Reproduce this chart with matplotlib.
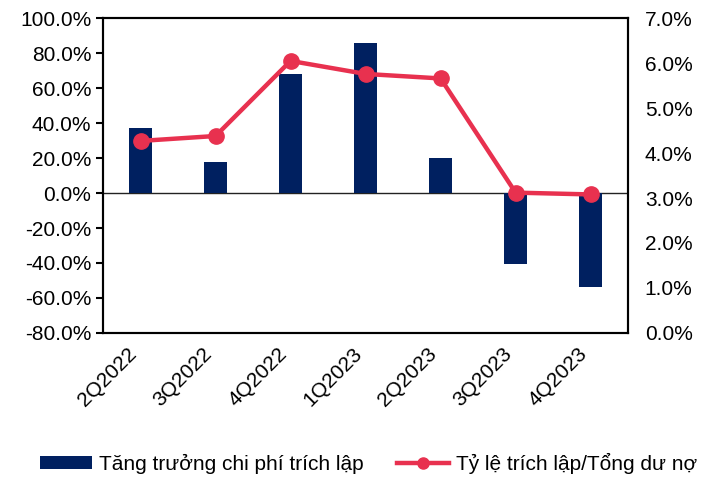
import matplotlib
matplotlib.use("Agg")
import matplotlib.pyplot as plt
from matplotlib.lines import Line2D
from matplotlib.ticker import FuncFormatter, MultipleLocator

plt.rcParams["font.family"] = ["Liberation Sans", "DejaVu Sans"]

quarters = ["2Q2022", "3Q2022", "4Q2022", "1Q2023", "2Q2023", "3Q2023", "4Q2023"]
# growth of provisioning expense (%), left axis
provision_growth = [37.1, 17.7, 68.0, 85.9, 20.3, -40.8, -53.9]
# provisions / total loans (%), right axis
provision_ratio = [4.27, 4.38, 6.05, 5.76, 5.66, 3.12, 3.08]

NAVY = "#002060"
RED = "#E8314F"
FS = 15

fig = plt.figure(figsize=(7.13, 4.79), dpi=100)
ax = fig.add_axes([0.1445, 0.305, 0.7365, 0.657])
ax2 = ax.twinx()

x = range(len(quarters))
bars = ax.bar(x, provision_growth, width=0.31, color=NAVY, zorder=2,
              label="Tăng trưởng chi phí trích lập")
ax.axhline(0, color="#222222", lw=1.0, zorder=1)

line, = ax2.plot(x, provision_ratio, "-o", color=RED, lw=3.2, ms=11,
                 zorder=3, label="Tỷ lệ trích lập/Tổng dư nợ")

ax.set_xlim(-0.5, len(quarters) - 0.5)
ax.set_ylim(-80, 100)
ax.yaxis.set_major_locator(MultipleLocator(20))
ax.yaxis.set_major_formatter(FuncFormatter(lambda v, _: f"{v:.1f}%"))
ax2.set_ylim(0, 7)
ax2.yaxis.set_major_locator(MultipleLocator(1))
ax2.yaxis.set_major_formatter(FuncFormatter(lambda v, _: f"{v:.1f}%"))

ax.set_xticks(list(x))
ax.set_xticklabels(quarters, rotation=45, ha="right", fontsize=FS)
ax.tick_params(axis="x", length=0, pad=8)
ax.tick_params(axis="y", labelsize=FS, length=5, width=1.5, direction="out")
ax2.tick_params(axis="y", labelsize=FS, length=0, pad=12)

for a in (ax, ax2):
    for s in a.spines.values():
        s.set_linewidth(1.5)
        s.set_color("black")

ax.set_zorder(ax2.get_zorder() - 1)
ax.patch.set_visible(True)
ax2.patch.set_visible(False)

# legend line handle with a smaller marker, like the original
line_handle = Line2D([], [], color=RED, lw=3.2, marker="o", ms=8)
fig.legend([bars, line_handle], [bars.get_label(), line.get_label()],
           loc="center", bbox_to_anchor=(0.517, 0.033), ncol=2, frameon=False,
           fontsize=FS, handlelength=2.5, handleheight=0.6,
           columnspacing=1.6, handletextpad=0.35)

fig.savefig("out.png", dpi=100)
